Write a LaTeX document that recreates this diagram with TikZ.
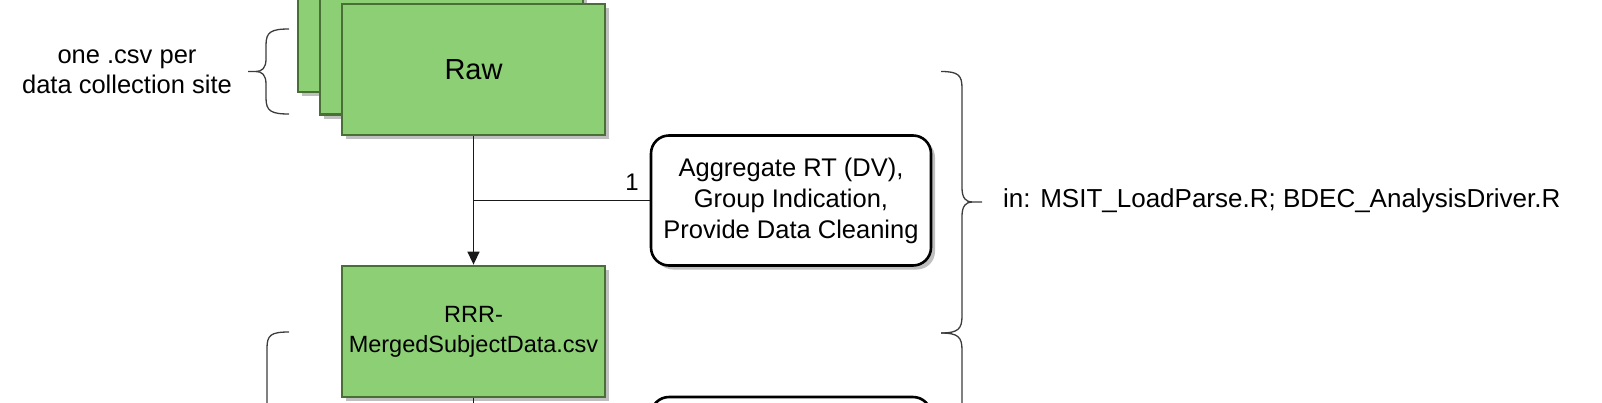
\documentclass[tikz,border=0pt]{standalone}
\usepackage{fontspec}
\setmainfont{Liberation Sans}
\usetikzlibrary{arrows.meta,shadows}
\definecolor{boxgreen}{RGB}{141,207,116}
\definecolor{boxgreenline}{RGB}{72,112,52}
\definecolor{linegray}{RGB}{25,25,25}
\tikzset{
  greenbox/.style={rectangle, draw=boxgreenline, line width=2.8pt, fill=boxgreen,
    minimum width=263pt, minimum height=131pt, inner sep=0pt, align=center,
    drop shadow={shadow xshift=4pt, shadow yshift=-4pt, fill=black, opacity=0.25}},
  stepbox/.style={rectangle, rounded corners=18pt, draw=black, line width=2.6pt, fill=white,
    minimum width=280pt, minimum height=130pt, inner sep=0pt, align=center,
    font=\fontsize{25.5}{31}\selectfont,
    drop shadow={shadow xshift=4pt, shadow yshift=-4pt, fill=black, opacity=0.25}},
  conn/.style={draw=linegray, line width=1.5pt},
  bracket/.style={draw=linegray!85, line width=1.3pt},
  plain/.style={align=center, inner sep=0pt, font=\fontsize{25.5}{30}\selectfont}
}
\begin{document}
\begin{tikzpicture}[x=1pt,y=-1pt]
\useasboundingbox (0,0) rectangle (1602,402);
\clip (0,0) rectangle (1602,402);
% stacked raw files
\node[greenbox] (raw1) at (429.5,26.5) {};
\node[greenbox] (raw2) at (451.5,49) {};
\node[greenbox, font=\fontsize{29}{34}\selectfont] (raw) at (473.5,69.5) {Raw};
% merged
\node[greenbox, font=\fontsize{23.5}{30}\selectfont] (merged) at (473.5,331.5) {RRR-\\MergedSubjectData.csv};
% process boxes
\node[stepbox] (agg) at (791,200.5) {Aggregate RT (DV),\\Group Indication,\\Provide Data Cleaning};
\node[stepbox] (next) at (791,462) {};
% connectors
\coordinate (junc) at (raw.south |- agg.west);
\draw[conn, -{Triangle[length=13pt,width=12pt]}] (raw.south) -- (merged.north);
\draw[conn] (agg.west) -- (junc);
\node[plain, font=\fontsize{24}{28}\selectfont] (one) at (632,182) {1};
\coordinate (mergedout) at (merged.south |- 0,420);
\draw[conn] (merged.south) -- (mergedout);
% left text and brace
\node[plain] (site) at (127,72) {one .csv per\\data collection site};
\draw[bracket] (289,29) .. controls (271,29) and (266,32) .. (266,45) -- (266,59)
  .. controls (266,68) and (262,71.5) .. (256,71.5) -- (248,71.5);
\draw[bracket] (289,114) .. controls (271,114) and (266,111) .. (266,98) -- (266,84)
  .. controls (266,75) and (262,71.5) .. (256,71.5);
% left brace 2 (partial)
\draw[bracket] (289,332) .. controls (271,332) and (267,335) .. (267,348) -- (267,420);
% right brace 1
\draw[bracket] (941,71.5) .. controls (958,71.5) and (962,75) .. (962,88) -- (962,188)
  .. controls (962,198) and (966,202) .. (972,202) -- (982,202);
\draw[bracket] (941,333) .. controls (958,333) and (962,329) .. (962,316) -- (962,216)
  .. controls (962,206) and (966,202) .. (972,202);
% right brace 2 (partial)
\draw[bracket] (941,333) .. controls (958,333) and (962,337) .. (962,350) -- (962,420);
\node[plain, anchor=west, font=\fontsize{26}{30}\selectfont] (files) at (1003,201) {in: MSIT\_LoadParse.R; BDEC\_AnalysisDriver.R};
\end{tikzpicture}
\end{document}
